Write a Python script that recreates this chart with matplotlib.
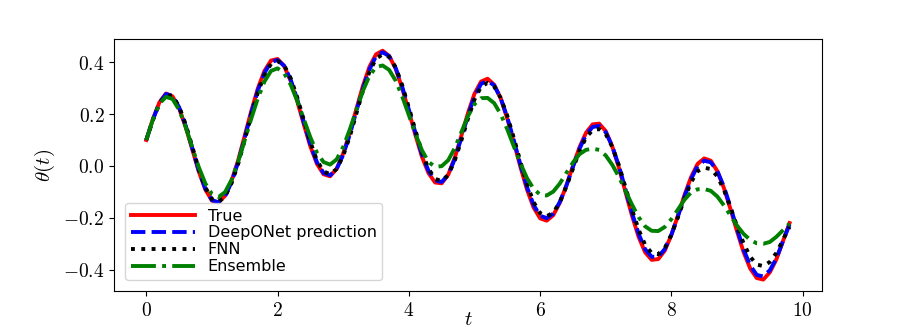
import numpy as np
import matplotlib
matplotlib.use("Agg")
import matplotlib.pyplot as plt

plt.rcParams['mathtext.fontset'] = 'cm'

# time grid, step 0.1 from 0 to 9.8
t = np.round(np.arange(0, 99) * 0.1, 1)

theta_true = [
    0.100, 0.180, 0.245, 0.279, 0.268, 0.222, 0.150, 0.064, -0.022, -0.091,
    -0.134, -0.141, -0.115, -0.057, 0.022, 0.117, 0.212, 0.299, 0.366, 0.406,
    0.412, 0.385, 0.327, 0.249, 0.160, 0.075, 0.008, -0.032, -0.040, -0.011,
    0.048, 0.128, 0.219, 0.308, 0.382, 0.430, 0.444, 0.424, 0.374, 0.298,
    0.210, 0.119, 0.035, -0.028, -0.064, -0.067, -0.034, 0.032, 0.116, 0.203,
    0.278, 0.325, 0.336, 0.313, 0.260, 0.182, 0.091, -0.004, -0.091, -0.160,
    -0.202, -0.211, -0.190, -0.142, -0.076, 0.000, 0.072, 0.128, 0.160, 0.163,
    0.134, 0.075, -0.007, -0.100, -0.192, -0.273, -0.333, -0.362, -0.359, -0.326,
    -0.266, -0.191, -0.112, -0.043, 0.008, 0.029, 0.020, -0.020, -0.085, -0.166,
    -0.252, -0.332, -0.395, -0.432, -0.438, -0.410, -0.360, -0.290, -0.220,
]

theta_deeponet = [
    0.100, 0.178, 0.243, 0.277, 0.270, 0.226, 0.155, 0.069, -0.018, -0.088,
    -0.132, -0.140, -0.117, -0.062, 0.015, 0.108, 0.204, 0.291, 0.358, 0.400,
    0.408, 0.386, 0.332, 0.256, 0.168, 0.083, 0.014, -0.027, -0.036, -0.012,
    0.043, 0.120, 0.210, 0.298, 0.372, 0.422, 0.438, 0.423, 0.377, 0.304,
    0.217, 0.128, 0.044, -0.019, -0.056, -0.062, -0.034, 0.027, 0.108, 0.193,
    0.268, 0.316, 0.328, 0.310, 0.261, 0.187, 0.098, 0.005, -0.081, -0.150,
    -0.192, -0.201, -0.184, -0.139, -0.076, -0.004, 0.066, 0.120, 0.150, 0.154,
    0.130, 0.075, 0.000, -0.090, -0.181, -0.261, -0.321, -0.350, -0.350, -0.320,
    -0.265, -0.194, -0.118, -0.051, 0.000, 0.020, 0.014, -0.020, -0.080, -0.158,
    -0.242, -0.322, -0.383, -0.420, -0.426, -0.402, -0.356, -0.290, -0.225,
]

theta_fnn = [
    0.100, 0.176, 0.240, 0.273, 0.270, 0.229, 0.160, 0.075, -0.012, -0.083,
    -0.128, -0.138, -0.118, -0.066, 0.008, 0.100, 0.195, 0.283, 0.350, 0.393,
    0.404, 0.388, 0.338, 0.264, 0.177, 0.092, 0.021, -0.021, -0.032, -0.012,
    0.039, 0.113, 0.201, 0.289, 0.363, 0.413, 0.430, 0.420, 0.380, 0.310,
    0.225, 0.137, 0.053, -0.011, -0.050, -0.058, -0.035, 0.021, 0.098, 0.181,
    0.256, 0.305, 0.320, 0.306, 0.262, 0.193, 0.107, 0.016, -0.070, -0.139,
    -0.182, -0.194, -0.180, -0.140, -0.080, -0.011, 0.057, 0.110, 0.138, 0.142,
    0.122, 0.073, 0.003, -0.082, -0.168, -0.245, -0.304, -0.336, -0.340, -0.316,
    -0.265, -0.198, -0.126, -0.063, -0.020, -0.007, -0.012, -0.040, -0.092, -0.160,
    -0.232, -0.298, -0.350, -0.380, -0.386, -0.370, -0.335, -0.285, -0.235,
]

theta_ensemble = [
    0.100, 0.178, 0.240, 0.266, 0.258, 0.216, 0.150, 0.072, -0.005, -0.068,
    -0.108, -0.120, -0.101, -0.053, 0.017, 0.099, 0.183, 0.261, 0.325, 0.366,
    0.376, 0.357, 0.313, 0.251, 0.180, 0.110, 0.051, 0.015, 0.005, 0.025,
    0.073, 0.140, 0.215, 0.289, 0.347, 0.381, 0.387, 0.370, 0.328, 0.267,
    0.196, 0.124, 0.060, 0.015, -0.003, -0.001, 0.022, 0.069, 0.130, 0.191,
    0.238, 0.261, 0.262, 0.242, 0.199, 0.141, 0.075, 0.010, -0.047, -0.088,
    -0.111, -0.114, -0.099, -0.068, -0.027, 0.013, 0.045, 0.062, 0.066, 0.062,
    0.040, 0.004, -0.042, -0.096, -0.149, -0.197, -0.233, -0.250, -0.251, -0.235,
    -0.205, -0.168, -0.130, -0.102, -0.090, -0.089, -0.096, -0.118, -0.152, -0.191,
    -0.230, -0.262, -0.285, -0.298, -0.300, -0.293, -0.273, -0.248, -0.222,
]

xticks = [0, 2, 4, 6, 8, 10]
yticks = [-0.4, -0.2, 0.0, 0.2, 0.4]

fig, ax = plt.subplots(figsize=(9.13, 3.27), dpi=100)

ax.plot(t, theta_true, 'r-', linewidth=2.8, label='True')
ax.plot(t, theta_deeponet, 'b--', linewidth=2.8, label='DeepONet prediction')
ax.plot(t, theta_fnn, 'k:', linewidth=2.8, label='FNN')
ax.plot(t, theta_ensemble, 'g-.', linewidth=2.8, label='Ensemble')

ax.set_xticks(xticks)
ax.set_xticklabels([f'${v}$' for v in xticks], fontsize=14)
ax.set_yticks(yticks)
ax.set_yticklabels([f'${v:.1f}$' for v in yticks], fontsize=14)
ax.set_xlabel(r'$t$', fontsize=15, labelpad=-8)
ax.set_ylabel(r'$\theta(t)$', fontsize=15)

ax.legend(loc='lower left', fontsize=11.5, handlelength=4.0, labelspacing=0.12,
          borderaxespad=0.7, borderpad=0.35)

plt.savefig('out.png', dpi=100)
